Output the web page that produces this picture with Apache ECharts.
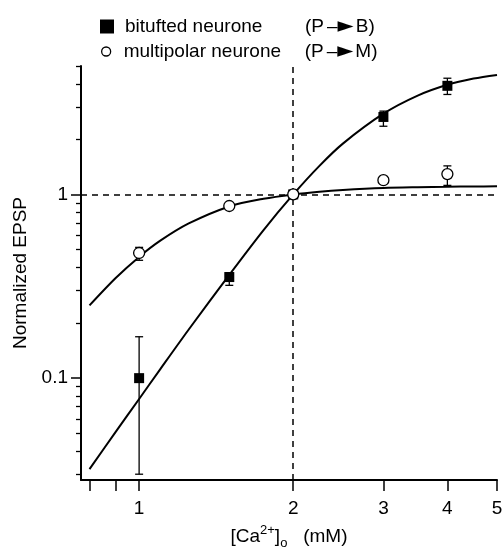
<!DOCTYPE html>
<html><head><meta charset="utf-8">
<script src="https://cdn.jsdelivr.net/npm/echarts@6/dist/echarts.min.js"></script>
<style>html,body{margin:0;padding:0;background:#fff}#c{width:503px;height:548px}</style>
</head><body><div id="c"></div>
<script>
// ---- data ----
const xPoints = [1, 1.5, 2, 3, 4];
const bitufted = [0.10, 0.355, 1.0, 2.64, 3.90];
const bitLow   = [0.030, 0.320, 1.0, 2.35, 3.50];
const bitHigh  = [0.168, 0.375, 1.0, 2.84, 4.29];
const multipolar = [0.48, 0.865, 1.0, 1.195, 1.29];
const multLow    = [0.438, 0.845, 1.0, 1.16, 1.12];
const multHigh   = [0.515, 0.885, 1.0, 1.23, 1.43];
const xFit    = [0.8, 0.9, 1, 1.1, 1.25, 1.5, 1.75, 2, 2.25, 2.5, 3, 3.5, 4, 4.5, 5];
const bitFit  = [0.032, 0.051, 0.077, 0.112, 0.184, 0.365, 0.64, 1.0, 1.43, 1.89, 2.75, 3.45, 3.95, 4.27, 4.47];
const multFit = [0.249, 0.351, 0.457, 0.56, 0.695, 0.86, 0.947, 1.0, 1.035, 1.058, 1.085, 1.095, 1.10, 1.105, 1.107];
const xTicks  = [0.8, 0.9, 1, 2, 3, 4, 5];
const xLabels = [1, 2, 3, 4, 5];
const yMajor  = [0.1, 1];
const yMinor  = [0.03, 0.04, 0.05, 0.06, 0.07, 0.08, 0.09, 0.2, 0.3, 0.4, 0.5, 0.6, 0.7, 0.8, 0.9, 2, 3, 4, 5];
const names = ['bitufted neurone', 'multipolar neurone'];
const arrowLabels = ['B', 'M'];

const FONT = 'Liberation Sans, Arial, sans-serif';
const chart = echarts.init(document.getElementById('c'));

function errBars(lo, hi) {
  return xPoints.map((x, i) => [x, lo[i], hi[i]]);
}
function renderErr(params, api) {
  const x = api.value(0), lo = api.value(1), hi = api.value(2);
  if (lo === hi) return null;
  const a = api.coord([x, hi]), b = api.coord([x, lo]);
  const w = 4;
  const st = {stroke: '#000', lineWidth: 1.3};
  return {type: 'group', children: [
    {type: 'line', shape: {x1: a[0], y1: a[1], x2: b[0], y2: b[1]}, style: st},
    {type: 'line', shape: {x1: a[0]-w, y1: a[1], x2: a[0]+w, y2: a[1]}, style: st},
    {type: 'line', shape: {x1: b[0]-w, y1: b[1], x2: b[0]+w, y2: b[1]}, style: st}
  ]};
}
function legendFmt(idx) {
  return function (name) {
    return '{n|' + name + '}{p|(P}{ln|–}{tri|►}{q|' + arrowLabels[idx] + ')}';
  };
}
const legendRich = (pad, w) => ({
  n: {fontSize: 19, fontFamily: FONT, color: '#000', width: w, padding: [0, 0, 0, pad], lineHeight: 22},
  p: {fontSize: 19, fontFamily: FONT, color: '#000', lineHeight: 22},
  q: {fontSize: 19, fontFamily: FONT, color: '#000', lineHeight: 22, padding: [0, 0, 0, 2]},
  ln: {fontSize: 19, fontFamily: FONT, color: '#000', lineHeight: 22, padding: [0, 0, 0, 3]},
  tri: {fontSize: 21, fontFamily: 'DejaVu Sans', color: '#000', lineHeight: 22}
});

chart.setOption({
  animation: false,
  grid: {left: 81, right: 6, top: 66, bottom: 68, containLabel: false, outerBoundsMode: 'none'},
  legend: [
    {data: [names[0]], left: 100, top: 16, padding: 0, itemWidth: 14, itemHeight: 14, icon: 'rect',
     itemStyle: {color: '#000'}, formatter: legendFmt(0),
     textStyle: {rich: legendRich(6, 180)}},
    {data: [names[1]], left: 101, top: 41, padding: 0, itemWidth: 9, itemHeight: 9, icon: 'circle',
     itemStyle: {color: '#fff', borderColor: '#000', borderWidth: 1.3}, formatter: legendFmt(1),
     textStyle: {rich: legendRich(8, 181)}}
  ],
  xAxis: {
    type: 'log', min: 0.77, max: 5,
    name: '{a|[Ca}{s|2+}{a|]}{b|o}{a|   (mM)}', nameLocation: 'middle', nameGap: 44,
    nameTextStyle: {rich: {
      a: {fontSize: 19, fontFamily: FONT, color: '#000', lineHeight: 26},
      s: {fontSize: 13, fontFamily: FONT, color: '#000', lineHeight: 26, verticalAlign: 'top', padding: [0, 0, 6, 0]},
      b: {fontSize: 13, fontFamily: FONT, color: '#000', lineHeight: 26, verticalAlign: 'bottom'}
    }},
    axisLine: {lineStyle: {color: '#000', width: 2}},
    axisTick: {customValues: xTicks, length: 11, lineStyle: {color: '#000', width: 1.5}},
    axisLabel: {customValues: xLabels, margin: 19, fontSize: 19, fontFamily: FONT, color: '#000',
                formatter: v => String(v)},
    splitLine: {show: false}, minorTick: {show: false}
  },
  yAxis: [
    {type: 'log', min: 0.0279, max: 5, position: 'left',
     name: 'Normalized EPSP', nameLocation: 'middle', nameGap: 48, nameRotate: 90,
     nameTextStyle: {fontSize: 19, fontFamily: FONT, color: '#000'},
     axisLine: {show: true, lineStyle: {color: '#000', width: 2}},
     axisTick: {customValues: yMajor, length: 10, lineStyle: {color: '#000', width: 1.5}},
     axisLabel: {customValues: yMajor, margin: 13, fontSize: 19, fontFamily: FONT, color: '#000',
                 formatter: v => String(v)},
     splitLine: {show: false}},
    {type: 'log', min: 0.0279, max: 5, position: 'left', offset: 0,
     axisLine: {show: false},
     axisTick: {customValues: yMinor, length: 5, lineStyle: {color: '#000', width: 1.3}},
     axisLabel: {show: false}, splitLine: {show: false}}
  ],
  series: [
    {name: 'fitB', type: 'line', data: xFit.map((x, i) => [x, bitFit[i]]), smooth: 0.3,
     showSymbol: false, lineStyle: {color: '#000', width: 2}, z: 2, silent: true,
     markLine: {silent: true, symbol: 'none', label: {show: false},
       lineStyle: {color: '#000', width: 1.5, type: [6, 5]},
       data: [{yAxis: 1}, {xAxis: 2}]}},
    {name: 'fitM', type: 'line', data: xFit.map((x, i) => [x, multFit[i]]), smooth: 0.3,
     showSymbol: false, lineStyle: {color: '#000', width: 2}, z: 2, silent: true},
    {name: 'errB', type: 'custom', data: errBars(bitLow, bitHigh), renderItem: renderErr,
     encode: {x: 0, y: [1, 2]}, z: 3, silent: true},
    {name: 'errM', type: 'custom', data: errBars(multLow, multHigh), renderItem: renderErr,
     encode: {x: 0, y: [1, 2]}, z: 3, silent: true},
    {name: names[0], type: 'scatter', data: xPoints.map((x, i) => [x, bitufted[i]]),
     symbol: 'rect', symbolSize: 10, itemStyle: {color: '#000', opacity: 1}, z: 5},
    {name: names[1], type: 'scatter', data: xPoints.map((x, i) => [x, multipolar[i]]),
     symbol: 'circle', symbolSize: 11, itemStyle: {color: '#fff', borderColor: '#000', borderWidth: 1.3, opacity: 1}, z: 6}
  ]
});
</script></body></html>
